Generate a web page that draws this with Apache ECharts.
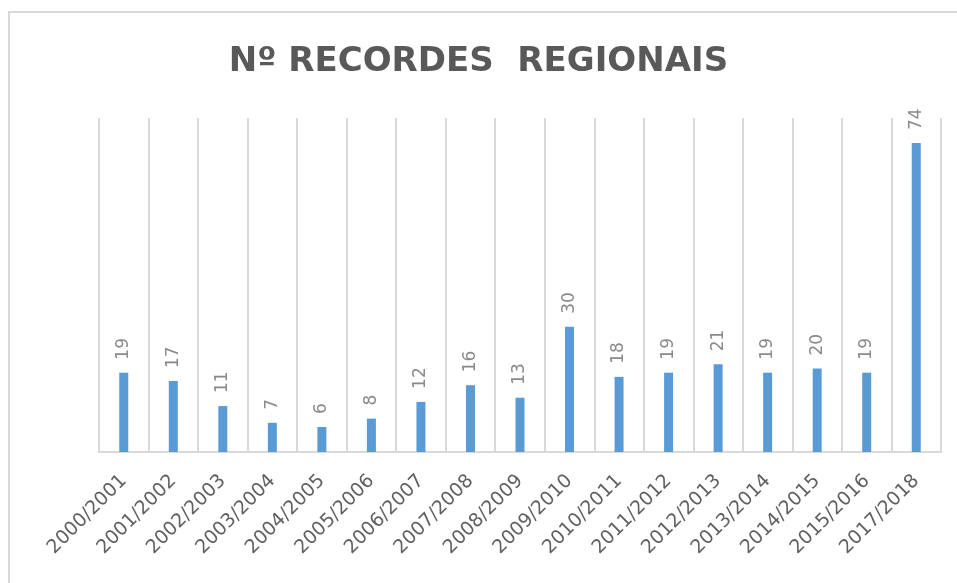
<!DOCTYPE html>
<html>
<head>
<meta charset="utf-8">
<script src="https://cdn.jsdelivr.net/npm/echarts@6/dist/echarts.min.js"></script>
<style>
    html, body { margin: 0; padding: 0; background: #fff; }
    #chart { width: 957px; height: 583px; }
</style>
</head>
<body>
<div id="chart"></div>
<script>
    // épocas e número de recordes
    const seasons = ['2000/2001', '2001/2002', '2002/2003', '2003/2004', '2004/2005', '2005/2006',
        '2006/2007', '2007/2008', '2008/2009', '2009/2010', '2010/2011', '2011/2012',
        '2012/2013', '2013/2014', '2014/2015', '2015/2016', '2017/2018']
    const records = [19, 17, 11, 7, 6, 8, 12, 16, 13, 30, 18, 19, 21, 19, 20, 19, 74]

    const chart = echarts.init(document.getElementById('chart'))
    const font = '"DejaVu Sans", "Open Sans", sans-serif'

    chart.setOption({
        animation: false,
        title: {
            text: 'Nº RECORDES  REGIONAIS',
            left: 'center',
            top: 40,
            textStyle: { color: '#595959', fontSize: 34, fontWeight: 'bold', fontFamily: font }
        },
        graphic: [{
            type: 'rect',
            shape: { x: 9, y: 12, width: 960, height: 600 },
            style: { fill: 'none', stroke: '#d9d9d9', lineWidth: 2 }
        }],
        grid: { left: 99, right: 16, top: 118, bottom: 131 },
        xAxis: {
            type: 'category',
            data: seasons,
            axisLine: { lineStyle: { color: '#d9d9d9', width: 2 } },
            axisTick: { show: false },
            splitLine: { show: true, lineStyle: { color: '#d9d9d9', width: 2 } },
            axisLabel: {
                interval: 0,
                rotate: 45,
                margin: 26,
                color: '#606060',
                fontSize: 19,
                fontFamily: font
            }
        },
        yAxis: {
            type: 'value',
            min: 0,
            max: 80,
            show: false
        },
        series: [{
            type: 'bar',
            data: records,
            barWidth: 9,
            itemStyle: { color: '#5b9bd5' },
            label: {
                show: true,
                position: 'top',
                rotate: 90,
                align: 'left',
                verticalAlign: 'middle',
                distance: 13,
                color: '#8a8a8a',
                fontSize: 17,
                fontFamily: font
            }
        }]
    })
</script>
</body>
</html>
